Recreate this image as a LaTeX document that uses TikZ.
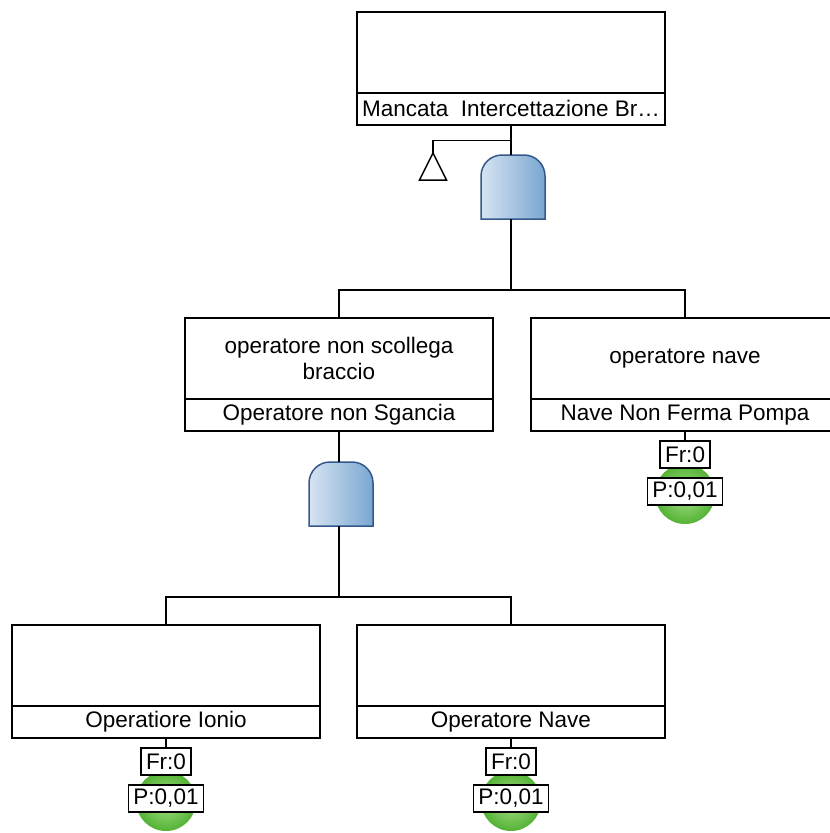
\documentclass[tikz,border=0pt]{standalone}
\usepackage{fontspec}
\setmainfont{Liberation Sans}
\usetikzlibrary{positioning}
\definecolor{gateLight}{RGB}{214,228,242}
\definecolor{gateDark}{RGB}{122,166,209}
\definecolor{gateEdge}{RGB}{52,88,140}
\definecolor{evLight}{RGB}{168,226,140}
\definecolor{evGreen}{RGB}{84,178,52}
% and gate drawn over a named placeholder node
\newcommand\andgate[1]{%
  \path[gateshape] (#1.south west) -- ([yshift=-21pt]#1.north west)
    arc[start angle=180,end angle=90,radius=21pt] -- ([xshift=-21pt]#1.north east)
    arc[start angle=90,end angle=0,radius=21pt] -- (#1.south east) -- cycle;}

\begin{document}
\begin{tikzpicture}[x=1pt,y=1pt,font=\fontsize{22.5}{26}\selectfont,
  evtop/.style={draw,line width=2pt,outer sep=0pt,inner sep=0pt,
    minimum width=308pt,minimum height=81pt,align=center},
  evlab/.style={draw,line width=2pt,outer sep=0pt,inner sep=0pt,
    minimum width=308pt,minimum height=32pt},
  gatebox/.style={outer sep=0pt,inner sep=0pt,minimum width=64pt,minimum height=64pt},
  gateshape/.style={draw=gateEdge,line width=1.5pt,left color=gateLight,right color=gateDark},
  conn/.style={line width=1.6pt},
  tagbox/.style={draw,fill=white,line width=1.5pt,outer sep=0pt,
    inner xsep=5pt,inner ysep=0pt,minimum height=27pt},
  basicev/.style={circle,outer sep=0pt,inner sep=0pt,minimum size=60pt,
    inner color=evLight,outer color=evGreen}]
\clip (0,0) rectangle (830,-833);
%
% events
\node[evtop] (ev1) at (511,-52) {};
\node[evlab,below=0pt of ev1] (lab1) {Mancata\ \ Intercettazione Br…};
\node[evtop] (ev2) at (339,-358.5) {operatore non scollega\\braccio};
\node[evlab,below=0pt of ev2] (lab2) {Operatore non Sgancia};
\node[evtop] (ev3) at (685,-358.5) {operatore nave};
\node[evlab,below=0pt of ev3] (lab3) {Nave Non Ferma Pompa};
\node[evtop] (ev4) at (166,-665.5) {};
\node[evlab,below=0pt of ev4] (lab4) {Operatiore Ionio};
\node[evtop] (ev5) at (511,-665.5) {};
\node[evlab,below=0pt of ev5] (lab5) {Operatore Nave};
%
% gates
\node[gatebox] (g1) at (513,-187) {};
\andgate{g1}
\node[gatebox] (g2) at (341,-494) {};
\andgate{g2}
%
% transfer triangle
\coordinate (tr1) at (433,-153);
\draw[line width=1.5pt] (tr1) -- ++(-13.5,-27) -- ++(27,0) -- cycle;
%
% connectors
\draw[conn] (lab1.south) -- (lab1.south |- g1.north);
\draw[conn] (lab1.south) -- ++(0,-16) -| (tr1);
\draw[conn] (lab1.south |- g1.south) -- ++(0,-71) -| (ev2.north);
\draw[conn] (lab1.south |- g1.south) -- ++(0,-71) -| (ev3.north);
\draw[conn] (lab2.south) -- (lab2.south |- g2.north);
\draw[conn] (lab2.south |- g2.south) -- ++(0,-71) -| (ev4.north);
\draw[conn] (lab2.south |- g2.south) -- ++(0,-71) -| (ev5.north);
%
% basic events
\foreach \ev in {3,4,5}{
  \node[basicev] (c\ev) at ([yshift=-63pt]lab\ev.south) {};
  \node[tagbox,below=10pt of lab\ev] (fr\ev) {Fr:0};
  \node[tagbox,below=10pt of fr\ev] (p\ev) {P:0,01};
  \draw[conn] (lab\ev.south) -- (fr\ev);
}
\end{tikzpicture}
\end{document}
